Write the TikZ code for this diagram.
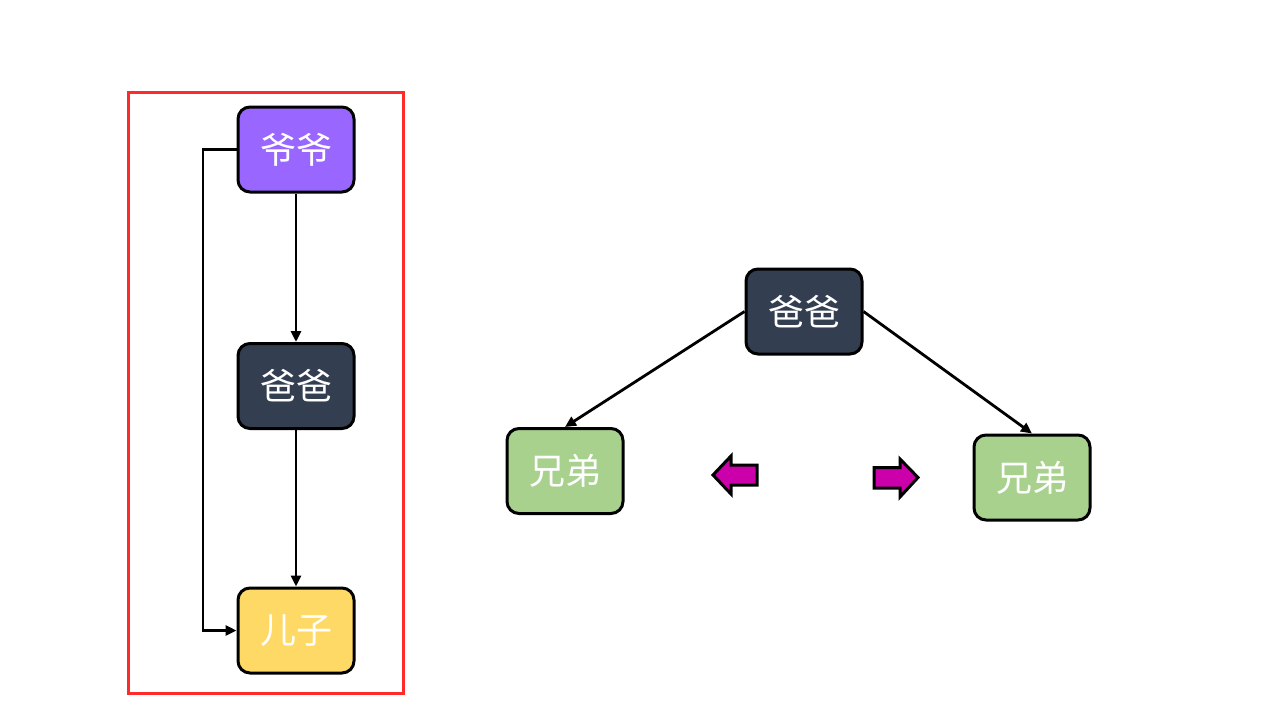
\documentclass[tikz,border=0pt]{standalone}
\usepackage{fontspec}
\newfontfamily\cjk{Noto Sans CJK SC}
\usetikzlibrary{arrows.meta}
\definecolor{purp}{HTML}{9966FF}
\definecolor{navy}{HTML}{333F50}
\definecolor{gold}{HTML}{FFD966}
\definecolor{leaf}{HTML}{A9D18E}
\definecolor{redbox}{HTML}{FF2A2A}
\definecolor{mag}{HTML}{CC00AA}
\tikzset{
  box/.style={draw=black, line width=3pt, rounded corners=12pt, minimum width=116pt, minimum height=85pt, inner sep=0pt, text=white, font=\cjk\fontsize{36}{36}\selectfont},
  link/.style={draw=black, line width=2.8pt, -{Triangle[length=11pt,width=10pt]}},
  bigarrow/.style={draw=black, line width=3pt, fill=mag, line join=miter}
}
\begin{document}
\begin{tikzpicture}[x=1pt,y=-1pt]
\useasboundingbox (0,0) rectangle (1283,728);
\fill[white] (0,0) rectangle (1283,728);
\draw[redbox, line width=3pt] (128,92) rectangle (403,693);
\node[box, fill=purp] (yeye) at (296,149.5) {爷爷};
\node[box, fill=navy] (baba1) at (296,386) {爸爸};
\node[box, fill=gold] (erzi) at (296,630.5) {儿子};
\node[box, fill=navy] (baba2) at (804,311.5) {爸爸};
\node[box, fill=leaf] (xd1) at (565,471) {兄弟};
\node[box, fill=leaf] (xd2) at (1032,477.5) {兄弟};
\coordinate (c1) at (203,149.5);
\coordinate (c2) at (203,630.5);
\draw[link] (yeye.west) -- (c1) -- (c2) -- (erzi.west);
\draw[link] (yeye.south) -- (baba1.north);
\draw[link] (baba1.south) -- (erzi.north);
\draw[link] (baba2.west) -- (xd1.north);
\draw[link] (baba2.east) -- (xd2.north);
\draw[bigarrow] (713,475) -- (731,456) -- (731,465) -- (757,465) -- (757,485) -- (731,485) -- (731,494) -- cycle;
\draw[bigarrow] (918,477.5) -- (900,459) -- (900,467.5) -- (874,467.5) -- (874,488) -- (900,488) -- (900,497) -- cycle;
\end{tikzpicture}
\end{document}
